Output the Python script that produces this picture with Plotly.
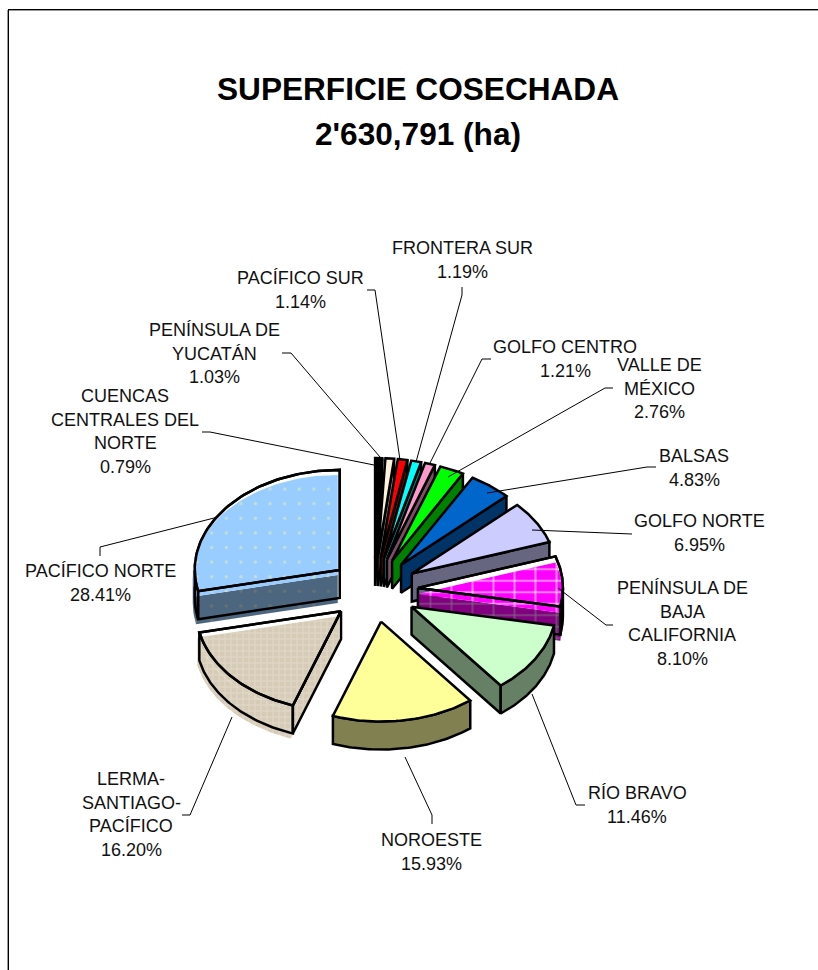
import numpy as np
import plotly.graph_objects as go

names = ["CUENCAS\nCENTRALES DEL\nNORTE", "PENÍNSULA DE\nYUCATÁN", "PACÍFICO SUR", "FRONTERA SUR",
         "GOLFO CENTRO", "VALLE DE\nMÉXICO", "BALSAS", "GOLFO NORTE",
         "PENÍNSULA DE\nBAJA\nCALIFORNIA", "RÍO BRAVO", "NOROESTE",
         "LERMA-\nSANTIAGO-\nPACÍFICO", "PACÍFICO NORTE"]
values = [0.79, 1.03, 1.14, 1.19, 1.21, 2.76, 4.83, 6.95, 8.10, 11.46, 15.93, 16.20, 28.41]
top_colors = ["#000000", "#FFF2DC", "#FF0000", "#00FFFF", "#FF99CC", "#00FF00", "#0066CC",
              "#CCCCFF", "#FF00FF", "#CCFFCC", "#FFFF99", "#DDD2BE", "#99CCFF"]
side_colors = ["#000000", "#807968", "#800000", "#008080", "#804D66", "#008000", "#003366",
               "#666680", "#800080", "#668066", "#808050", "#DDD2BE", "#4D6680"]
title_lines = ["SUPERFICIE COSECHADA", "2'630,791 (ha)"]

# label anchor (centre x, centre y of the first line)
label_pos = [(125, 396), (214, 330), (300.5, 278), (462, 248), (565, 347), (659, 365), (694, 456),
             (699, 521), (682, 588), (637, 793), (431, 840), (131, 779), (100, 571)]
leaders = [[(202, 432), (210, 432), (374, 465)], [(282, 353), (291, 353), (380, 457)],
           [(367, 290), (375, 290), (400, 460)], [(462, 287), (462, 295), (416, 462)],
           [(491, 359), (482, 359), (430, 463)], [(613, 388), (605, 388), (448, 477)],
           [(656, 467), (647, 467), (487, 493)], [(632, 534), (532, 530)],
           [(613, 625), (606, 625), (558, 588)], [(585, 805), (576, 805), (532, 694)],
           [(432, 824), (432, 815), (405, 757)], [(182, 815), (190, 815), (232, 717)],
           [(100, 556), (100, 547), (218, 517)]]

CX, CY, RX, RY, EXPL_X, EXPL_Y, DEPTH = 374, 590, 145, 100, 44, 32, 28
OUTLINE = 2.5
PATTERNS = {
    8: [dict(shape="-", fgcolor="#FFFFFF", bgcolor="#FF00FF", size=11.5, solidity=0.18),
        dict(shape="|", fgcolor="#FFFFFF", bgcolor="rgba(0,0,0,0)", size=21, solidity=0.1)],
    11: [dict(shape="+", fgcolor="#ECE6DA", bgcolor="#D6CBB6", size=6, solidity=0.3)],
    12: [dict(shape=".", fgcolor="#F0F4A6", bgcolor="#99CCFF", size=14.6, solidity=0.04)],
}
SIDE_PATTERNS = {
    8: [dict(shape="-", fgcolor="#807080", bgcolor="#800080", size=11.5, solidity=0.18),
        dict(shape="|", fgcolor="#807080", bgcolor="rgba(0,0,0,0)", size=21, solidity=0.1)],
    11: [dict(shape="+", fgcolor="#ECE6DA", bgcolor="#D6CBB6", size=6, solidity=0.3)],
    12: [dict(shape=".", fgcolor="#7F8060", bgcolor="#4D6680", size=14.6, solidity=0.04)],
}
OFFSET = {8: (0, 6), 11: (-2, 5), 12: (-2, 5)}

fig = go.Figure()


def solid(xs, ys, color):
    fig.add_trace(go.Scatter(x=xs, y=ys, mode="lines", fill="toself", fillcolor=color,
                             line=dict(color="black", width=OUTLINE), hoverinfo="skip"))


def textured(xs, ys, color, patterns, off):
    xs, ys = np.asarray(xs) + off[0], np.asarray(ys) + off[1]
    for p in patterns:
        fig.add_trace(go.Scatter(x=xs, y=ys, mode="lines", fill="toself", fillcolor=color,
                                 fillpattern=p, line=dict(width=0), hoverinfo="skip"))


def outline(xs, ys):
    fig.add_trace(go.Scatter(x=xs, y=ys, mode="lines", line=dict(color="black", width=OUTLINE),
                             hoverinfo="skip"))


total = sum(values)
edges = np.concatenate([[0], np.cumsum(values)]) / total * 2 * np.pi
mids = (edges[:-1] + edges[1:]) / 2
# painter's order: from the back of the pie towards the front on either side
order = sorted(range(len(values)), key=lambda i: mids[i] if mids[i] <= np.pi else 2 * np.pi - mids[i])

for i in order:
    a, b, mid = edges[i], edges[i + 1], mids[i]
    ax = CX + EXPL_X * np.sin(mid)
    ay = CY - EXPL_Y * np.cos(mid)
    th = np.linspace(a, b, 60)
    ox = ax + RX * np.sin(th)
    oy = ay - RY * np.cos(th)
    faces = []
    if np.sin(b) > 0:
        faces.append(([ax, ox[-1], ox[-1], ax, ax], [ay, oy[-1], oy[-1] + DEPTH, ay + DEPTH, ay]))
    if np.sin(a) < 0:
        faces.append(([ax, ox[0], ox[0], ax, ax], [ay, oy[0], oy[0] + DEPTH, ay + DEPTH, ay]))
    mask = np.cos(th) < 0
    if mask.any():
        rx, ry = ox[mask], oy[mask]
        faces.append((np.r_[rx, rx[::-1], rx[0]], np.r_[ry, ry[::-1] + DEPTH, ry[0]]))
    tx, ty = np.r_[ax, ox, ax], np.r_[ay, oy, ay]
    if i in OFFSET:
        for fx, fy in faces:
            textured(fx, fy, side_colors[i], SIDE_PATTERNS[i], OFFSET[i])
        solid(tx, ty, "#FFFFFF")
        textured(tx, ty, top_colors[i], PATTERNS[i], OFFSET[i])
        for fx, fy in faces:
            outline(fx, fy)
        outline(tx, ty)
    else:
        for fx, fy in faces:
            solid(fx, fy, side_colors[i])
        solid(tx, ty, top_colors[i])

for pts in leaders:
    fig.add_trace(go.Scatter(x=[p[0] for p in pts], y=[p[1] for p in pts], mode="lines",
                             line=dict(color="black", width=1), hoverinfo="skip"))

LINE_H = 23.7
ann = []
for name, v, (x, y) in zip(names, values, label_pos):
    lines = name.split("\n") + [f"{v:.2f}%"]
    for k, t in enumerate(lines):
        ann.append(dict(x=x, y=y + k * LINE_H, text=t, showarrow=False, xanchor="center", yanchor="middle",
                        font=dict(family="Liberation Sans", size=18, color="#111111")))
for k, t in enumerate(title_lines):
    ann.append(dict(x=417.5, y=89 + k * 45, text=f"<b>{t}</b>", showarrow=False, xanchor="center",
                    yanchor="middle", font=dict(family="Liberation Sans", size=31.6, color="black")))

# chart frame: top and left edges only are visible in the window
for x0, y0, x1, y1, c in [(8, 9.5, 818, 9.5, "black"), (8, 10.5, 818, 10.5, "#999999"),
                          (8.5, 9, 8.5, 970, "black"), (7.5, 10, 7.5, 970, "#999999")]:
    fig.add_shape(type="line", x0=x0, y0=y0, x1=x1, y1=y1, line=dict(color=c, width=1))

fig.update_layout(width=818, height=970, margin=dict(l=0, r=0, t=0, b=0), showlegend=False,
                  paper_bgcolor="white", plot_bgcolor="white", annotations=ann,
                  xaxis=dict(range=[0, 818], visible=False, fixedrange=True),
                  yaxis=dict(range=[970, 0], visible=False, fixedrange=True))
fig.write_html("out.html", config={"displayModeBar": False},
               post_script="document.body.style.margin='0';document.body.style.overflow='hidden';")
